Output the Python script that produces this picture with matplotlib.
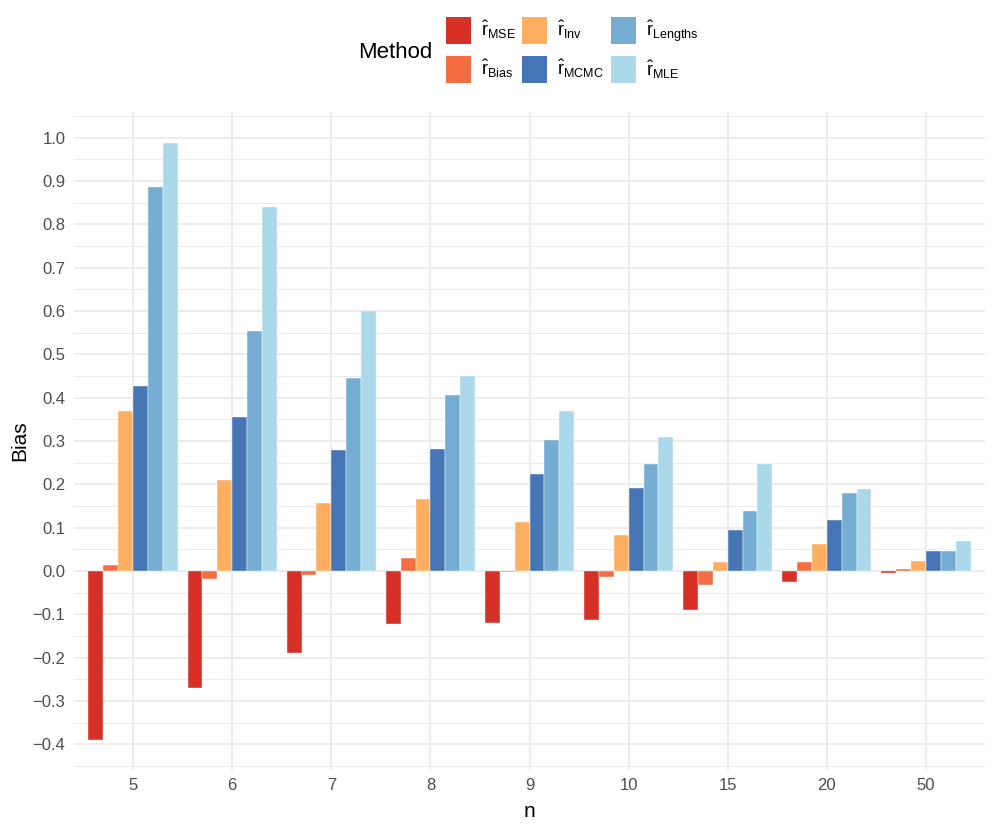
import numpy as np
import matplotlib
matplotlib.use("Agg")
import matplotlib.pyplot as plt
from matplotlib.patches import Patch
from matplotlib.ticker import MultipleLocator

plt.rcParams["font.family"] = ["Liberation Sans", "DejaVu Sans"]
plt.rcParams["mathtext.fontset"] = "custom"
plt.rcParams["mathtext.rm"] = "Liberation Sans"
plt.rcParams["mathtext.it"] = "Liberation Sans"

# data
n_labels = ["5", "6", "7", "8", "9", "10", "15", "20", "50"]
methods = ["MSE", "Bias", "Inv", "MCMC", "Lengths", "MLE"]
r_mse = [-0.390, -0.270, -0.189, -0.123, -0.120, -0.114, -0.090, -0.025, -0.005]
r_bias = [0.013, -0.018, -0.008, 0.030, -0.003, -0.013, -0.032, 0.022, 0.005]
r_inv = [0.370, 0.211, 0.156, 0.166, 0.113, 0.083, 0.020, 0.062, 0.023]
r_mcmc = [0.428, 0.356, 0.279, 0.282, 0.224, 0.191, 0.094, 0.118, 0.046]
r_lengths = [0.887, 0.554, 0.446, 0.406, 0.303, 0.247, 0.138, 0.179, 0.047]
r_mle = [0.988, 0.839, 0.600, 0.450, 0.370, 0.309, 0.246, 0.190, 0.070]
colors = ["#D73027", "#F46D43", "#FDAE61", "#4575B4", "#74ADD1", "#ABD9E9"]

series = [r_mse, r_bias, r_inv, r_mcmc, r_lengths, r_mle]

fig = plt.figure(figsize=(9.96, 8.32), dpi=100)
ax = fig.add_axes([0.0739, 0.0745, 0.9155, 0.7909])

x = np.arange(len(n_labels))
width = 0.15
for i, (vals, col) in enumerate(zip(series, colors)):
    offset = (i - 2.5) * width
    ax.bar(x + offset, vals, width, color=col, edgecolor="white", linewidth=0.3, zorder=3)

ax.set_xlim(-0.6, len(n_labels) - 0.4)
ax.set_ylim(-0.459, 1.059)
ax.set_xticks(x)
ax.set_xticklabels(n_labels)
yt = np.round(np.arange(-0.4, 1.01, 0.1), 1) + 0.0
ax.set_yticks(yt)
ax.set_yticklabels([f"{v:.1f}".replace("-", "\u2212") for v in yt])
ax.yaxis.set_minor_locator(MultipleLocator(0.05))

ax.grid(True, which="major", color="#EBEBEB", linewidth=1.3, zorder=0)
ax.grid(True, which="minor", axis="y", color="#EBEBEB", linewidth=0.7, zorder=0)
for s in ax.spines.values():
    s.set_visible(False)
ax.tick_params(axis="both", which="both", length=0, labelsize=12, colors="#4D4D4D", pad=6)
ax.set_xlabel("n", fontsize=15, labelpad=6)
ax.set_ylabel("Bias", fontsize=15, labelpad=2)

# legend, title on the left like ggplot
handles = [Patch(facecolor=c, edgecolor="none") for c in colors]
labels = [r"$\hat{\mathrm{r}}_{\mathrm{" + m + "}}$" for m in methods]
fig.legend(handles, labels, ncol=3, loc="upper left",
           bbox_to_anchor=(445.7 / 996, 1 - 17 / 832), frameon=False,
           borderpad=0, borderaxespad=0,
           fontsize=13, handlelength=1.4, handleheight=1.95,
           handletextpad=0.55, columnspacing=0.35, labelspacing=0.65)
fig.text(358 / 996, 1 - 53 / 832, "Method", fontsize=16, va="center", ha="left")

fig.savefig("out.png", dpi=100)
